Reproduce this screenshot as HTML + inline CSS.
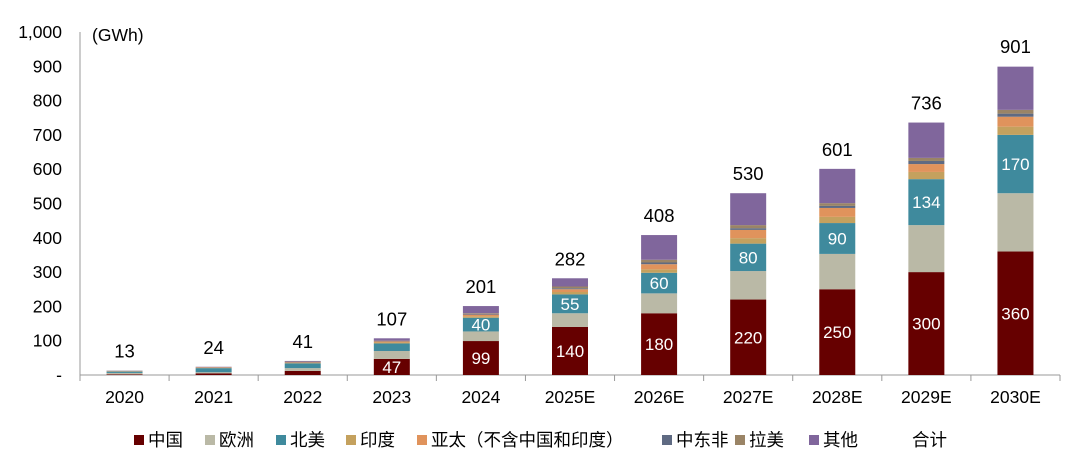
<!DOCTYPE html>
<html><head><meta charset="utf-8"><style>
body{margin:0;background:#fff}
svg text{font-family:"Liberation Sans","Noto Sans CJK SC",sans-serif}
</style></head><body>
<svg id="c" width="1080" height="462" xmlns="http://www.w3.org/2000/svg"></svg>
<script>
const categories=["2020","2021","2022","2023","2024","2025E","2026E","2027E","2028E","2029E","2030E"];
const seriesNames=["中国","欧洲","北美","印度","亚太（不含中国和印度）","中东非","拉美","其他"];
const seriesColors=["#660000","#bab9a6","#3f8a9d","#c4a15e","#e0935c","#5f6a82","#9a8466","#80669c"];
const china=[2,5,12,47,99,140,180,220,250,300,360];
const europe=[4,3,8,23,28,40,58,83,103,137,170];
const northAmerica=[4,12,14,22,40,55,60,80,90,134,170];
const india=[0.5,0.5,1,3,4,7,10,16,18,21,24];
const apac=[1,1.5,2,3,5,8,15,24,26,23,29];
const mea=[0.5,0.5,1,1,2,3,5,5,6,9,9];
const latam=[0.5,0.5,1,1,2,5,8,9,8,9,11];
const other=[0.5,1,2,7,21,24,72,93,100,103,126];
const totals=[13,24,41,107,201,282,408,530,601,736,901];
const yTicks=[0,100,200,300,400,500,600,700,800,900,1000];
const yTickLabels=["-","100","200","300","400","500","600","700","800","900","1,000"];
const chinaLabelFrom=3, naLabelFrom=4;

const svg=document.getElementById('c');
const NS="http://www.w3.org/2000/svg";
const x0=80,x1=1060,yBase=375,yTop=32,yMax=1000;
const step=(x1-x0)/categories.length, bw=36;
const y=v=>yBase-(v/yMax)*(yBase-yTop);
const xc=i=>x0+step*(i+0.5);
function mk(t,a,p){const e=document.createElementNS(NS,t);for(const k in a)e.setAttribute(k,a[k]);(p||svg).appendChild(e);return e;}
const series=[china,europe,northAmerica,india,apac,mea,latam,other];

const yAxis=mk('g',{});


mk('line',{x1:x0,y1:yTop,x2:x0,y2:yBase,stroke:'#999','stroke-width':1},yAxis);
yTicks.forEach((v,i)=>{const t=mk('text',{x:62,y:y(v)+6,'text-anchor':'end','font-size':17.5,fill:'#000'},yAxis);t.textContent=yTickLabels[i];
});
const u=mk('text',{x:92,y:41,'font-size':17.5,fill:'#000'});u.textContent='(GWh)';


const xAxis=mk('g',{});


mk('line',{x1:x0,y1:yBase,x2:x1,y2:yBase,stroke:'#999','stroke-width':1},xAxis);
for(let i=0;i<=categories.length;i++)mk('line',{x1:x0+step*i,y1:yBase,x2:x0+step*i,y2:yBase+6,stroke:'#999'},xAxis);
categories.forEach((c,i)=>{const t=mk('text',{x:xc(i),y:403,'text-anchor':'middle','font-size':17.5,fill:'#000'},xAxis);t.textContent=c;
});

categories.forEach((c,i)=>{
  const g=mk('g',{});
  
  
  let cum=0;
  series.forEach((s,k)=>{
    const v=s[i];const r=mk('rect',{x:xc(i)-bw/2,y:y(cum+v),width:bw,height:y(cum)-y(cum+v),fill:seriesColors[k]},g);
    
    
    cum+=v;
  });
  if(i>=chinaLabelFrom){const t=mk('text',{x:xc(i),y:(y(0)+y(china[i]))/2+6,'text-anchor':'middle','font-size':17,fill:'#fff'},g);t.textContent=china[i];}
  if(i>=naLabelFrom){const b=china[i]+europe[i];const t=mk('text',{x:xc(i),y:(y(b)+y(b+northAmerica[i]))/2+6,'text-anchor':'middle','font-size':17,fill:'#fff'},g);t.textContent=northAmerica[i];}
  const t=mk('text',{x:xc(i),y:y(totals[i])-13,'text-anchor':'middle','font-size':18.5,fill:'#000'},g);t.textContent=totals[i];
  
  
});

const legX=[134,205,276,346,417,662,735,809];
const lg=mk('g',{});


seriesNames.forEach((n,k)=>{
  mk('rect',{x:legX[k],y:435,width:10,height:10,fill:seriesColors[k]},lg);
  const t=mk('text',{x:legX[k]+14,y:446,'font-size':17.5,fill:'#000'},lg);t.textContent=n;
  
  
});
const tt=mk('text',{x:912,y:446,'font-size':17.5,fill:'#000'},lg);tt.textContent='合计';


</script>
</body></html>
